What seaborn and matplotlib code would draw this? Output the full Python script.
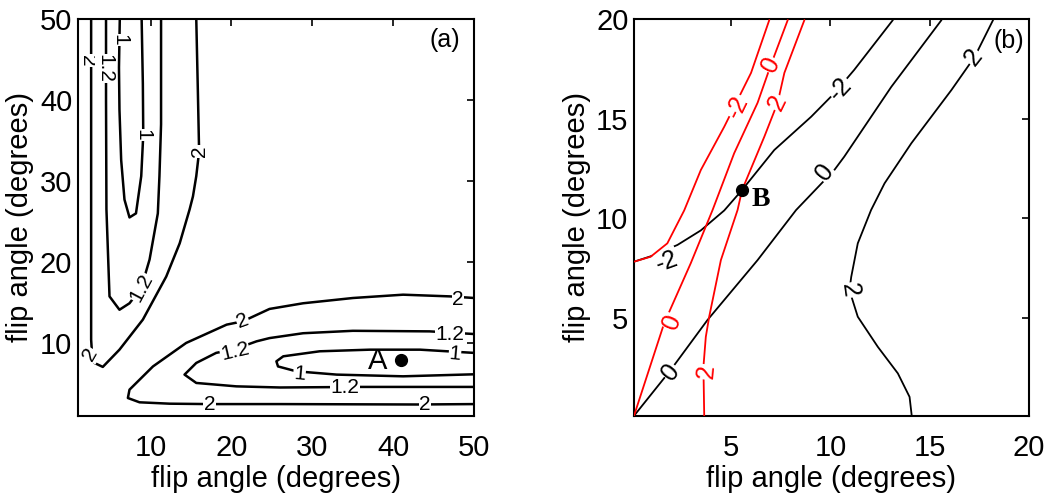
import matplotlib
matplotlib.use("Agg")
import matplotlib.pyplot as plt
import seaborn as sns
import pandas as pd

# ---------------- Panel (a): contour lines (levels 1, 1.2, 2) ----------------
a_lvl2_vert_x = [2.66, 2.66, 2.66, 2.66, 2.75, 3.07, 4.1, 6.16, 9.05, 11.94, 13.6, 14.83, 15.24, 15.65, 16.0, 15.85, 15.65]
a_lvl2_vert_y = [50, 40, 26.5, 10.4, 9.0, 7.53, 7.04, 9.17, 12.88, 18.2, 22.3, 26.5, 28.1, 30.6, 33.65, 40.9, 50]

a_lvl12_vert_x = [4.5, 4.5, 4.55, 4.93, 6.16, 7.4, 8.85, 9.88, 10.9, 11.1, 11.3, 11.3]
a_lvl12_vert_y = [50, 40, 26.5, 15.75, 14.1, 14.9, 16.8, 20.3, 26.0, 30.6, 37.0, 50]

a_lvl1_vert_x = [6.2, 6.1, 6.16, 6.37, 6.78, 7.4, 8.2, 8.85, 9.1, 9.05, 8.9]
a_lvl1_vert_y = [50, 44, 38.8, 32.6, 27.7, 25.5, 26.0, 30.6, 35.7, 42.0, 50]

a_lvl2_horz_x = [50, 47.0, 41.2, 35.0, 28.85, 24.7, 21.4, 19.4, 14.4, 10.3, 7.4, 7.2, 8.64, 12.35, 17.3, 25.97, 42.9, 50]
a_lvl2_horz_y = [15.55, 15.75, 15.96, 15.55, 14.9, 14.2, 12.67, 12.26, 10.0, 7.1, 4.23, 3.2, 2.67, 2.5, 2.45, 2.45, 2.4, 2.45]

a_lvl12_horz_x = [50, 44.5, 35.0, 28.85, 24.7, 23.1, 20.6, 18.1, 15.65, 14.2, 15.65, 20.6, 26.0, 35.9, 50]
a_lvl12_horz_y = [11.1, 11.43, 11.5, 11.2, 10.6, 10.2, 9.3, 8.77, 7.53, 6.09, 5.06, 4.64, 4.5, 4.57, 4.57]

a_lvl1_horz_x = [50, 43.3, 37.1, 30.9, 26.4, 25.55, 25.75, 28.0, 33.0, 41.2, 50]
a_lvl1_horz_y = [8.77, 9.17, 9.17, 8.97, 8.35, 7.73, 7.1, 6.5, 6.09, 5.88, 6.13]

a_label_text = ["2", "1.2", "1", "1", "2", "1.2", "2", "2", "1.2", "2", "2", "2", "1.2", "1.2", "1", "1"]
a_label_x = [2.15, 4.35, 6.2, 9.05, 16.0, 8.85, 2.5, 21.4, 20.4, 17.3, 43.9, 48.0, 47.0, 34.0, 28.4, 47.6]
a_label_y = [44.9, 43.9, 47.4, 35.7, 33.65, 16.8, 8.6, 12.67, 8.95, 2.35, 2.35, 15.4, 11.0, 4.45, 6.2, 8.6]
a_label_rot = [-90, -90, -90, -90, 90, 62, 60, 20, 13, 0, 0, 0, 0, 0, -5, -5]

a_point = (41.0, 7.94)

# ---------------- Panel (b): black and red contour lines (levels -2, 0, 2) ----------------
b_blk_m2_x = [0.1, 0.94, 2.29, 3.47, 4.65, 5.55, 7.17, 9.03, 10.2, 11.2, 13.15]
b_blk_m2_y = [7.83, 8.1, 8.67, 9.4, 10.4, 11.43, 13.43, 15.1, 16.28, 17.45, 19.95]

b_blk_0_x = [0.1, 1.95, 3.8, 6.33, 8.27, 10.2, 10.7, 13.07, 15.6]
b_blk_0_y = [0.1, 2.4, 4.9, 7.91, 10.42, 12.43, 13.1, 16.6, 19.95]

b_blk_2_x = [14.1, 13.99, 13.4, 12.39, 11.38, 10.96, 11.05, 11.38, 12.05, 12.73, 14.08, 16.1, 17.27, 18.2]
b_blk_2_y = [0.1, 1.05, 2.23, 3.56, 5.07, 6.4, 7.07, 8.75, 10.42, 11.76, 13.77, 16.44, 18.1, 19.95]

b_red_m2_x = [0.1, 0.94, 1.78, 2.63, 3.47, 4.65, 6.0, 6.92]
b_red_m2_y = [7.83, 8.08, 8.75, 10.4, 12.43, 14.6, 17.3, 19.95]

b_red_0_x = [0.1, 1.62, 2.96, 4.06, 5.15, 6.33, 7.0, 7.85]
b_red_0_y = [0.1, 4.74, 7.75, 10.42, 13.27, 15.8, 17.7, 19.95]

b_red_2_x = [3.64, 3.6, 3.72, 3.89, 4.48, 5.32, 5.55, 6.67, 7.34, 7.68, 8.69]
b_red_2_y = [0.1, 2.56, 4.06, 5.07, 7.91, 10.42, 11.43, 14.1, 15.8, 17.3, 19.95]

b_label_text = ["-2", "0", "2", "0", "2", "-2", "-2", "0", "0", "2", "2"]
b_label_x = [5.3, 7.0, 7.34, 2.0, 3.75, 1.75, 10.5, 1.95, 9.7, 10.96, 17.2]
b_label_y = [15.6, 17.7, 15.8, 4.82, 2.3, 7.85, 16.5, 2.3, 12.3, 6.4, 18.1]
b_label_rot = [64, 63, 64, 68, 85, 20, 47, 52, 52, -82, 52]
b_label_color = ["red", "red", "red", "red", "red", "black", "black", "black", "black", "black", "black"]

b_point = (5.55, 11.43)

# ---------------- Styling ----------------
sns.set_theme(style="white")
plt.rcParams["font.family"] = ["Liberation Sans", "DejaVu Sans"]
plt.rcParams["text.color"] = "black"
plt.rcParams["axes.labelcolor"] = "black"

fig = plt.figure(figsize=(10.5, 5.01), dpi=100)
ax1 = fig.add_axes([0.074, 0.170, 0.3777, 0.792])
ax2 = fig.add_axes([0.6038, 0.170, 0.376, 0.792])


def draw(ax, xs, ys, color, lw, z):
    df = pd.DataFrame({"x": xs, "y": ys})
    sns.lineplot(data=df, x="x", y="y", sort=False, estimator=None,
                 color=color, lw=lw, ax=ax, zorder=z)


lw_a = 1.8
for xs, ys in [(a_lvl2_vert_x, a_lvl2_vert_y), (a_lvl12_vert_x, a_lvl12_vert_y),
               (a_lvl1_vert_x, a_lvl1_vert_y), (a_lvl2_horz_x, a_lvl2_horz_y),
               (a_lvl12_horz_x, a_lvl12_horz_y), (a_lvl1_horz_x, a_lvl1_horz_y)]:
    draw(ax1, xs, ys, "black", lw_a, 1)

for t, x, y, r in zip(a_label_text, a_label_x, a_label_y, a_label_rot):
    ax1.text(x, y, t, rotation=r, ha="center", va="center", fontsize=15,
             rotation_mode="anchor", color="black", zorder=2,
             bbox=dict(boxstyle="square,pad=0.02", fc="white", ec="none"))

ax1.plot([a_point[0]], [a_point[1]], "o", color="black", ms=8.5, zorder=5)
ax1.text(a_point[0] - 2.9, a_point[1] - 0.2, "A", ha="center", va="center", fontsize=21,
         color="black")
ax1.text(46.4, 47.4, "(a)", ha="center", va="center", fontsize=18, color="black")

lw_b = 1.3
for xs, ys in [(b_blk_m2_x, b_blk_m2_y), (b_blk_0_x, b_blk_0_y), (b_blk_2_x, b_blk_2_y)]:
    draw(ax2, xs, ys, "black", lw_b, 1)
for xs, ys in [(b_red_m2_x, b_red_m2_y), (b_red_0_x, b_red_0_y), (b_red_2_x, b_red_2_y)]:
    draw(ax2, xs, ys, "#ff0000", lw_b, 3)

for t, x, y, r, c in zip(b_label_text, b_label_x, b_label_y, b_label_rot, b_label_color):
    ax2.text(x, y, t, rotation=r, ha="center", va="center", fontsize=18, color=c,
             rotation_mode="anchor", zorder=4 if c == "red" else 2,
             bbox=dict(boxstyle="square,pad=0.03", fc="white", ec="none"))

ax2.plot([b_point[0]], [b_point[1]], "o", color="black", ms=8.5, zorder=5)
ax2.text(b_point[0] + 0.5, b_point[1] - 0.5, "B", ha="left", va="center", fontsize=20,
         fontweight="bold", color="black", family=["Liberation Serif", "DejaVu Serif"])
ax2.text(19.0, 18.9, "(b)", ha="center", va="center", fontsize=18, color="black")

ax1.set_xlim(1, 50)
ax1.set_ylim(1, 50)
ax1.set_xticks([10, 20, 30, 40, 50])
ax1.set_yticks([10, 20, 30, 40, 50])
ax2.set_xlim(0.1, 20)
ax2.set_ylim(0.1, 20)
ax2.set_xticks([5, 10, 15, 20])
ax2.set_yticks([5, 10, 15, 20])

for ax in (ax1, ax2):
    ax.set_xlabel("flip angle (degrees)", fontsize=21, labelpad=2, color="black")
    ax.set_ylabel("flip angle (degrees)", fontsize=21, labelpad=4, color="black")
    ax.tick_params(axis="both", direction="in", length=5, width=1.2, top=True, right=True,
                   labelsize=21, colors="black")
    ax.tick_params(axis="x", pad=13)
    ax.tick_params(axis="y", pad=4)
    for s in ax.spines.values():
        s.set_visible(True)
        s.set_color("black")
        s.set_linewidth(1.5)
    ax.set_facecolor("white")

fig.savefig("out.png", dpi=100, facecolor="white")
